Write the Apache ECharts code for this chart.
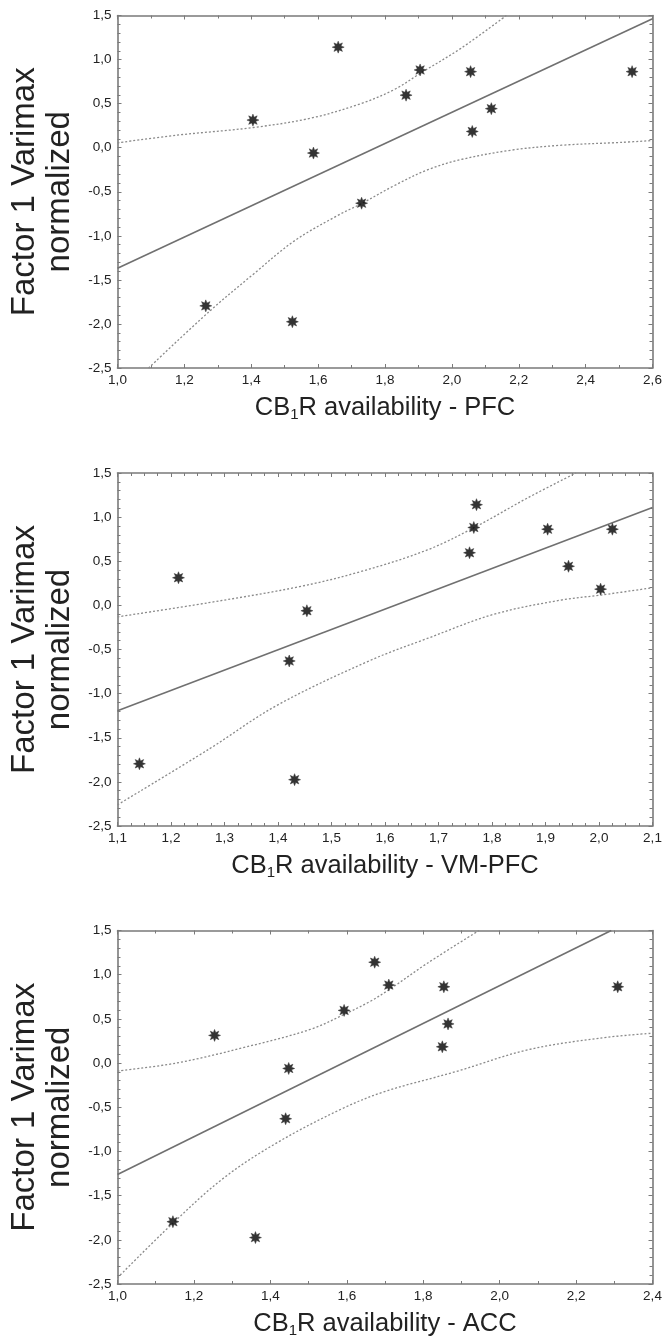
<!DOCTYPE html>
<html><head><meta charset="utf-8">
<script src="https://cdn.jsdelivr.net/npm/echarts@6/dist/echarts.min.js"></script>
<style>html,body{margin:0;padding:0;background:#fff}#c{width:668px;height:1343px}</style>
</head><body><div id="c"></div>
<script>
// ---- data ----
const factor1Varimax = [-1.795, 0.313, -1.975, -0.061, 1.141, -0.630, 0.596, 0.882, 0.863, 0.184, 0.443, 0.863];
const cb1rPFC   = [1.264, 1.405, 1.523, 1.586, 1.660, 1.730, 1.863, 1.905, 2.056, 2.061, 2.118, 2.539];
const cb1rVMPFC = [1.141, 1.214, 1.431, 1.454, 1.771, 1.421, 1.758, 1.766, 1.904, 2.003, 1.943, 2.025];
const cb1rACC   = [1.145, 1.254, 1.361, 1.448, 1.673, 1.440, 1.593, 1.710, 1.854, 1.850, 1.865, 2.309];

const fitPFC   = [[1.0, -1.369], [2.6, 1.462]];
const upperPFC = [[1.0, 0.055], [1.178, 0.142], [1.406, 0.229], [1.578, 0.335], [1.728, 0.50], [1.828, 0.66], [1.908, 0.85], [2.028, 1.13], [2.163, 1.5]];
const lowerPFC = [[1.093, -2.5], [1.278, -1.847], [1.408, -1.43], [1.528, -1.06], [1.658, -0.77], [1.730, -0.634], [1.828, -0.43], [1.928, -0.25], [2.028, -0.134], [2.178, -0.028], [2.328, 0.028], [2.506, 0.060], [2.6, 0.081]];

const fitVMPFC   = [[1.1, -1.195], [2.1, 1.108]];
const upperVMPFC = [[1.1, -0.13], [1.27, 0.03], [1.44, 0.212], [1.554, 0.382], [1.679, 0.628], [1.768, 0.886], [1.866, 1.216], [1.957, 1.5]];
const lowerVMPFC = [[1.1, -2.26], [1.272, -1.625], [1.398, -1.133], [1.573, -0.622], [1.679, -0.375], [1.804, -0.10], [1.929, 0.060], [2.004, 0.117], [2.1, 0.20]];

const fitACC   = [[1.0, -1.26], [2.292, 1.5]];
const upperACC = [[1.0, -0.09], [1.154, 0.0], [1.329, 0.174], [1.504, 0.38], [1.593, 0.55], [1.662, 0.70], [1.714, 0.84], [1.811, 1.13], [1.946, 1.5]];
const lowerACC = [[1.0, -2.43], [1.143, -1.82], [1.278, -1.30], [1.418, -0.90], [1.586, -0.52], [1.699, -0.323], [1.886, -0.096], [2.073, 0.149], [2.26, 0.281], [2.4, 0.338]];

const xRangePFC   = [1.0, 2.6, 0.2];
const xRangeVMPFC = [1.1, 2.1, 0.1];
const xRangeACC   = [1.0, 2.4, 0.2];
const yRange      = [-2.5, 1.5, 0.5];
const regionNames = ['PFC', 'VM-PFC', 'ACC'];

// ---- chart ----
const FONT = '"Liberation Sans", Arial, sans-serif';
const FRAME = '#7a7a7a';
const fmt = v => v.toFixed(1).replace('.', ',');

// asterisk-like marker
let star = '';
for (let i = 0; i < 16; i++) {
  const a = i * Math.PI / 8;
  const r = i % 2 === 0 ? 10 : 5.2;
  star += (i === 0 ? 'M' : 'L') + (10 + r * Math.sin(a)).toFixed(2) + ' ' + (10 - r * Math.cos(a)).toFixed(2) + ' ';
}
star += 'Z';

const panels = [
  { x: cb1rPFC, xr: xRangePFC, minorX: 2, fit: fitPFC, up: upperPFC, lo: lowerPFC, top: 15.5, h: 352.5 },
  { x: cb1rVMPFC, xr: xRangeVMPFC, minorX: 4, fit: fitVMPFC, up: upperVMPFC, lo: lowerVMPFC, top: 473, h: 353 },
  { x: cb1rACC, xr: xRangeACC, minorX: 2, fit: fitACC, up: upperACC, lo: lowerACC, top: 930.5, h: 353.5 }
];

const grid = [], xAxis = [], yAxis = [], series = [];
const tickLine = { color: FRAME, width: 1 };
panels.forEach((p, i) => {
  grid.push({ left: 117.5, width: 535, top: p.top, height: p.h, outerBoundsMode: 'none', containLabel: false });
  const xBase = {
    type: 'value', gridIndex: i, min: p.xr[0], max: p.xr[1], interval: p.xr[2],
    splitLine: { show: false },
    axisLine: { show: true, onZero: false, lineStyle: { color: FRAME, width: 1.6 } },
    axisTick: { show: true, inside: true, length: 4, lineStyle: tickLine },
    minorTick: { show: true, splitNumber: p.minorX, length: 3, lineStyle: tickLine }
  };
  xAxis.push(Object.assign({}, xBase, {
    position: 'bottom',
    axisLabel: { show: true, margin: 5, color: '#222', fontFamily: FONT, fontSize: 13.5, formatter: fmt, showMinLabel: true, showMaxLabel: true },
    name: 'CB{s|1}R availability - ' + regionNames[i],
    nameLocation: 'middle', nameGap: 26,
    nameTextStyle: { color: '#222', fontFamily: FONT, fontSize: 25.5, rich: { s: { fontFamily: FONT, fontSize: 15, color: '#222', padding: [13, 0, 0, 0] } } }
  }));
  xAxis.push(Object.assign({}, xBase, { position: 'top', axisLabel: { show: false } }));
  const yBase = {
    type: 'value', gridIndex: i, min: yRange[0], max: yRange[1], interval: yRange[2],
    splitLine: { show: false },
    axisLine: { show: true, onZero: false, lineStyle: { color: FRAME, width: 1.6 } },
    axisTick: { show: true, inside: true, length: 4, lineStyle: tickLine },
    minorTick: { show: true, splitNumber: 5, length: 3, lineStyle: tickLine }
  };
  yAxis.push(Object.assign({}, yBase, {
    position: 'left',
    axisLabel: { show: true, margin: 6, color: '#222', fontFamily: FONT, fontSize: 13.5, formatter: fmt, showMinLabel: true, showMaxLabel: true },
    name: 'Factor 1 Varimax\nnormalized', nameLocation: 'middle', nameRotate: 90, nameGap: 35,
    nameTextStyle: { color: '#222', fontFamily: FONT, fontSize: 33, lineHeight: 35 }
  }));
  yAxis.push(Object.assign({}, yBase, { position: 'right', axisLabel: { show: false } }));

  const xi = 2 * i, yi = 2 * i;
  series.push({
    type: 'line', xAxisIndex: xi, yAxisIndex: yi, data: p.up, smooth: 0.35, symbol: 'none', clip: true, silent: true,
    lineStyle: { color: '#8a8a8a', width: 1.3, type: [2, 2] }, z: 2
  });
  series.push({
    type: 'line', xAxisIndex: xi, yAxisIndex: yi, data: p.lo, smooth: 0.35, symbol: 'none', clip: true, silent: true,
    lineStyle: { color: '#8a8a8a', width: 1.3, type: [2, 2] }, z: 2
  });
  series.push({
    type: 'line', xAxisIndex: xi, yAxisIndex: yi, data: p.fit, symbol: 'none', clip: true, silent: true,
    lineStyle: { color: '#707070', width: 1.6 }, z: 3
  });
  series.push({
    type: 'scatter', xAxisIndex: xi, yAxisIndex: yi,
    data: p.x.map((v, k) => [v, factor1Varimax[k]]),
    symbol: 'path://' + star, symbolSize: 12,
    itemStyle: { color: '#000', borderColor: '#333', borderWidth: 0.6 }, z: 5
  });
});

const chart = echarts.init(document.getElementById('c'), null, { renderer: 'canvas' });
chart.setOption({ animation: false, backgroundColor: '#fff', grid, xAxis, yAxis, series });
</script>
</body></html>
